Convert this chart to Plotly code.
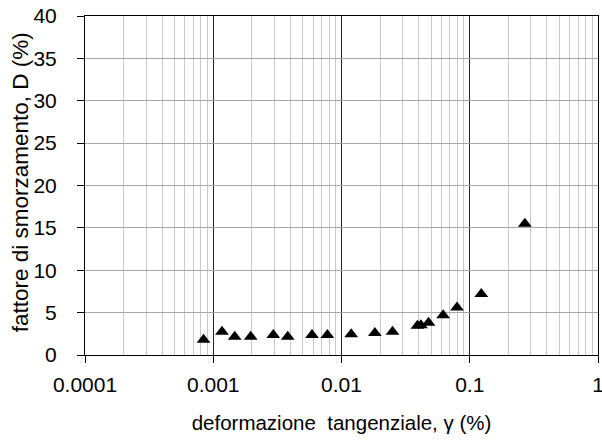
import plotly.graph_objects as go

# deformazione tangenziale gamma (%) and fattore di smorzamento D (%)
gamma = [0.00084, 0.00117, 0.00147, 0.00196, 0.00294, 0.00381, 0.00589, 0.00776,
         0.0119, 0.0182, 0.0250, 0.0391, 0.0416, 0.0477, 0.0620, 0.0796, 0.123, 0.269]
damping = [1.8, 2.75, 2.15, 2.15, 2.35, 2.15, 2.35, 2.35,
           2.45, 2.6, 2.75, 3.45, 3.5, 3.8, 4.7, 5.6, 7.2, 15.5]

x_tickvals = [0.0001, 0.001, 0.01, 0.1, 1]
x_ticktext = ["0.0001", "0.001", "0.01", "0.1", "1"]
y_tickvals = [0, 5, 10, 15, 20, 25, 30, 35, 40]

font_family = "Liberation Sans, Arial, sans-serif"

fig = go.Figure(go.Scatter(
    x=gamma,
    y=damping,
    mode="markers",
    marker=dict(symbol="triangle-up", size=12, color="black"),
    showlegend=False,
    cliponaxis=False,
))

fig.update_layout(
    width=602,
    height=441,
    margin=dict(l=85, r=4, t=16, b=86),
    plot_bgcolor="white",
    paper_bgcolor="white",
    font=dict(family=font_family, size=21, color="black"),
    xaxis=dict(
        type="log",
        range=[-4, 0],
        tickvals=x_tickvals,
        ticktext=x_ticktext,
        ticks="outside",
        ticklen=7,
        tickcolor="black",
        showline=True,
        mirror=True,
        linecolor="black",
        linewidth=1,
        showgrid=True,
        gridcolor="#222222",
        gridwidth=1,
        minor=dict(showgrid=True, gridcolor="#c8c8c8", gridwidth=1, dtick="D1"),
        zeroline=False,
        automargin=False,
        ticklabeloverflow="allow",
        ticklabelstandoff=4,
        title=dict(text="deformazione  tangenziale, γ (%)", font=dict(size=20.5), standoff=20),
        tickfont=dict(size=21),
    ),
    yaxis=dict(
        range=[0, 40],
        tickvals=y_tickvals,
        ticks="outside",
        ticklen=7,
        tickcolor="black",
        showline=True,
        mirror=True,
        linecolor="black",
        linewidth=1,
        showgrid=True,
        gridcolor="#a6a6a6",
        gridwidth=1,
        zeroline=False,
        automargin=False,
        ticklabeloverflow="allow",
        ticklabelstandoff=16,
        tickfont=dict(size=21),
    ),
)

# y title placed as an annotation so it sits apart from the tick labels
fig.add_annotation(
    text="fattore di smorzamento, D (%)",
    xref="paper", yref="paper",
    x=-0.125, y=0.509,
    xanchor="center", yanchor="middle",
    textangle=-90,
    showarrow=False,
    font=dict(size=22.5),
)

# drop the default body margin so the figure fills the window exactly
fig.write_html(
    "out.html",
    config={"displayModeBar": False},
    post_script="document.body.style.margin = '0';",
)
